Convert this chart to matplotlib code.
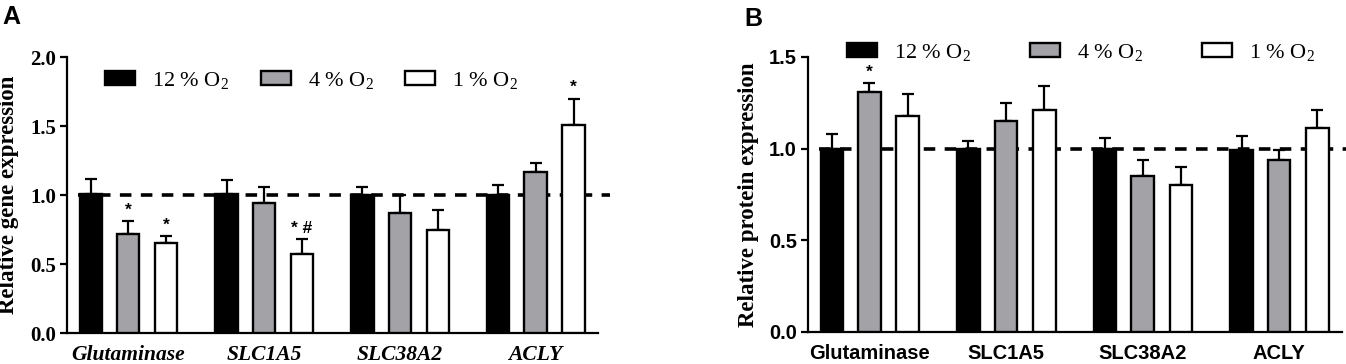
import matplotlib.pyplot as plt
import numpy as np

plt.rcParams.update({
    "font.family": "Liberation Serif",
    "mathtext.fontset": "custom",
    "mathtext.rm": "Liberation Serif",
    "mathtext.it": "Liberation Serif:italic",
    "mathtext.bf": "Liberation Serif:bold",
    "axes.linewidth": 1.6,
})

genes = ["Glutaminase", "SLC1A5", "SLC38A2", "ACLY"]
series = ["12 % O$_2$", "4 % O$_2$", "1 % O$_2$"]
colors = ["black", "#a2a2a7", "white"]

# panel A: relative gene expression (mean, SEM)
gene_mean = [[1.01, 1.01, 1.00, 1.00],
             [0.72, 0.94, 0.87, 1.17],
             [0.65, 0.57, 0.75, 1.51]]
gene_err = [[0.11, 0.10, 0.06, 0.07],
            [0.09, 0.12, 0.13, 0.06],
            [0.05, 0.11, 0.14, 0.19]]
gene_marks = [(0, 1, "*"), (0, 2, "*"), (1, 2, "* #"), (3, 2, "*")]

# panel B: relative protein expression (mean, SEM)
prot_mean = [[1.00, 1.00, 1.00, 0.99],
             [1.31, 1.15, 0.85, 0.94],
             [1.18, 1.21, 0.80, 1.11]]
prot_err = [[0.08, 0.04, 0.06, 0.08],
            [0.05, 0.10, 0.09, 0.05],
            [0.12, 0.13, 0.10, 0.10]]
prot_marks = [(0, 1, "*")]


def draw_panel(ax, means, errs, marks, ymax, yticks, ylabel, sans):
    x = np.arange(len(genes))
    offsets = [-0.275, 0.0, 0.28]
    width = 0.165
    for i in range(3):
        m = np.array(means[i])
        e = np.array(errs[i])
        ax.bar(x + offsets[i], m, width, color=colors[i], edgecolor="black",
               linewidth=1.7, zorder=3, label=series[i])
        ax.errorbar(x + offsets[i], m, yerr=[np.zeros_like(e), e], fmt="none",
                    ecolor="black", elinewidth=1.6, capsize=4.5, capthick=1.6, zorder=2)
    for g, s, txt in marks:
        top = means[s][g] + errs[s][g]
        ax.text(x[g] + offsets[s], top + ymax * 0.012, txt, ha="center", va="bottom",
                fontsize=12.5, fontweight="bold", family="Liberation Sans")
    # dashed reference line at 1.0, behind the bars
    ax.plot([-0.37, 3.55], [1, 1], color="black", lw=2.6, ls=(0, (3.2, 2.6)),
            zorder=1, clip_on=False)
    ax.set_xlim(-0.45, 3.46)
    ax.set_ylim(0, ymax)
    ax.set_yticks(yticks)
    ax.set_yticklabels([f"{t:.1f}" for t in yticks])
    ax.set_xticks(x)
    ax.set_xticklabels(genes)
    ax.spines["top"].set_visible(False)
    ax.spines["right"].set_visible(False)
    ax.tick_params(axis="y", direction="out", length=5, width=1.6, pad=3)
    ax.tick_params(axis="x", length=0, pad=8.5)
    if sans:
        for lab in ax.get_yticklabels():
            lab.set_fontproperties({"family": "Liberation Sans", "weight": "bold", "size": 14.5})
        for lab in ax.get_xticklabels():
            lab.set_fontproperties({"family": "Liberation Sans", "weight": "bold", "size": 14.5})
    else:
        for lab in ax.get_yticklabels():
            lab.set_fontproperties({"family": "Liberation Serif", "weight": "bold", "size": 15})
        for lab in ax.get_xticklabels():
            lab.set_fontproperties({"family": "Liberation Serif", "weight": "bold",
                                    "style": "italic", "size": 15.5})
    ax.set_ylabel(ylabel, fontsize=16.5, fontweight="bold")


fig = plt.figure(figsize=(13.46, 3.64), dpi=100)
axA = fig.add_axes([0.0498, 0.085, 0.3945, 0.758])
axB = fig.add_axes([0.6003, 0.088, 0.3967, 0.7555])

draw_panel(axA, gene_mean, gene_err, gene_marks, 2.0, [0.0, 0.5, 1.0, 1.5, 2.0],
           "Relative gene expression", sans=False)
draw_panel(axB, prot_mean, prot_err, prot_marks, 1.5, [0.0, 0.5, 1.0, 1.5],
           "Relative protein expression", sans=True)
axA.yaxis.set_label_coords(-0.09, 0.5)
axB.yaxis.set_label_coords(-0.092, 0.5)

leg_kw = dict(ncol=3, frameon=False, fontsize=16, handlelength=1.35, handleheight=0.6,
              handletextpad=0.77, borderaxespad=0, borderpad=0)
axA.legend(loc="center left", bbox_to_anchor=(0.072, 0.917), columnspacing=1.4, **leg_kw)
axB.legend(loc="center left", bbox_to_anchor=(0.073, 1.018), columnspacing=2.65, **leg_kw)

fig.text(0.002, 0.985, "A", fontsize=18, fontweight="bold", family="Liberation Sans",
         va="top", ha="left")
fig.text(0.553, 0.98, "B", fontsize=18, fontweight="bold", family="Liberation Sans",
         va="top", ha="left")

fig.savefig("out.png", dpi=100)
